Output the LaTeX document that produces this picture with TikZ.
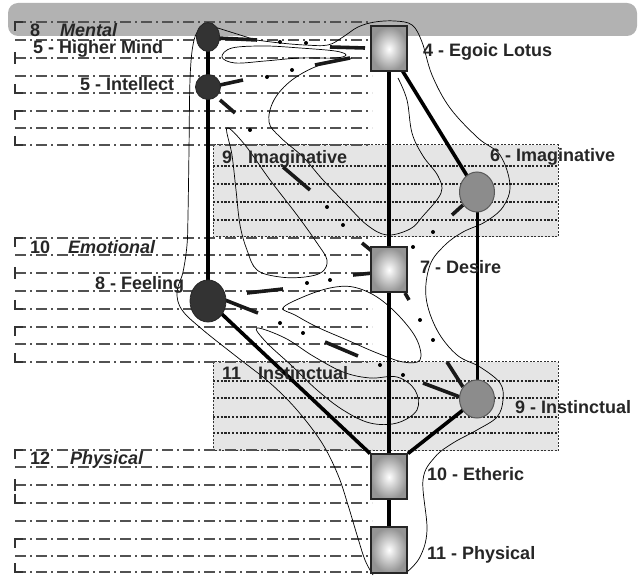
\documentclass[tikz,border=0pt]{standalone}
\usepackage{fontspec}
\setmainfont{Liberation Sans}
\usetikzlibrary{shapes.geometric}
\pgfdeclarelayer{bgA}
\pgfdeclarelayer{bgB}
\pgfsetlayers{bgA,bgB,main}
\begin{document}
\begin{tikzpicture}[x=1pt,y=-1pt,
  ddl/.style={draw=black!68, line width=1.3pt, dash pattern=on 11pt off 4pt on 2pt off 4pt},
  brk/.style={draw=black!80, line width=1.3pt},
  dotl/.style={draw=black!85, line width=1.1pt, dash pattern=on 2.2pt off 1.6pt},
  gbox/.style={fill=black!10, draw=black!80, line width=1pt, dash pattern=on 2pt off 1.5pt},
  contour/.style={draw=black, line width=0.7pt},
  heavy/.style={draw=black, line width=3.6pt},
  stub/.style={draw=black!90, line width=3.6pt},
  sq/.style={rectangle, draw=black!85, line width=2pt, minimum width=36pt, minimum height=45pt, inner sep=0pt, inner color=white, outer color=black!42},
  dkc/.style={ellipse, fill=black!80, draw=black!85, line width=0.8pt, inner sep=0pt},
  gyc/.style={ellipse, fill=black!45, draw=black!65, line width=1pt, inner sep=0pt},
  lbl/.style={font=\fontsize{18}{20}\selectfont\bfseries, text=black!85, inner sep=0pt, anchor=base west},
  ilbl/.style={lbl, font=\fontsize{18}{20}\selectfont\bfseries\itshape}
]
\useasboundingbox (0,0) rectangle (638,577);

% ---------- nodes ----------
\node[dkc, minimum width=23pt, minimum height=29pt] (hm) at (208,37) {};
\node[dkc, minimum width=25pt, minimum height=25pt] (intel) at (208,87) {};
\node[dkc, minimum width=36pt, minimum height=42pt] (feel) at (208,301) {};
\node[gyc, minimum width=35pt, minimum height=40pt] (imag) at (477,192) {};
\node[gyc, minimum width=35pt, minimum height=38pt] (inst) at (477,399) {};
\node[sq] (ego) at (389,49) {};
\node[sq] (desire) at (389,270) {};
\node[sq] (etheric) at (389,477) {};
\node[sq] (phys) at (389,550) {};

% ---------- background: bar, boxes, dash-dot lines ----------
\begin{pgfonlayer}{bgA}
  \fill[black!30, rounded corners=10pt] (8,3) rectangle (637,36);
  \draw[gbox] (213,145) rectangle (558,237);
  \draw[gbox] (213,362) rectangle (558,451);
  \foreach \y in {166,184,202,220,381,398,417,433}
    \draw[dotl] (213,\y) -- (558,\y);
  \foreach \y in {22,40,58,76,93,111,128,145,238,255,273,291,309,327,344,362,450,467,485,503,521,539,556,572}
    \draw[ddl] (15,\y) -- (372,\y);
  \foreach \ya/\yc/\yd/\ye/\yh in {22/58/93/111/145, 238/273/309/327/362, 450/485/503/539/572} {
    \draw[brk] (15,\ya+9) -- (15,\ya) -- (23,\ya);
    \draw[brk] (15,\yc-6) -- (15,\yc+6);
    \draw[brk] (15,\yd-9) -- (15,\yd) -- (23,\yd);
    \draw[brk] (15,\ye+9) -- (15,\ye) -- (23,\ye);
    \draw[brk] (15,\yh-9) -- (15,\yh) -- (23,\yh);
  }
\end{pgfonlayer}

% ---------- contours, connectors, stubs ----------
\begin{pgfonlayer}{bgB}
  % outer left contour
  \draw[contour] plot[smooth, tension=0.6] coordinates {(212,24) (199,30) (193,45) (190,80) (189,150) (188,215) (187,245) (183,272) (177,292) (182,310) (203,330) (237,357) (270,383) (297,410) (322,443) (338,475) (348,505) (357,535) (365,560) (373,575)};
  % pennant
  \draw[contour] (205,24) -- (256,40);
  % long right contour
  \draw[contour] plot[smooth, tension=0.6] coordinates {(256,40) (280,43) (305,45) (328,45) (343,37) (358,27) (375,22) (395,21) (412,25) (422,42) (432,75) (450,108) (478,138) (500,155) (510,185) (503,207) (485,222) (463,232) (445,245) (430,265) (426,297) (437,330) (457,355) (480,367) (500,383) (503,400) (497,417) (477,430) (453,443) (435,457) (423,480) (427,530) (420,557) (407,572)};
  % narrow loop near higher mind
  \draw[contour] plot[smooth cycle, tension=0.6] coordinates {(222,57) (232,48) (265,46) (300,48) (335,51) (346,55) (335,58) (300,58) (265,61) (235,63)};
  % big loop from lotus
  \draw[contour] plot[smooth, tension=0.6] coordinates {(352,58) (320,65) (292,80) (274,100) (269,122) (280,137) (303,157) (323,180) (347,205) (367,225) (387,235) (410,229) (423,216) (441,193) (438,176) (423,156) (412,133) (407,100) (398,78)};
  % long narrow loop
  \draw[contour] plot[smooth cycle, tension=0.6] coordinates {(227,128) (245,145) (270,180) (297,215) (317,243) (327,260) (322,272) (305,277) (280,277) (257,270) (247,250) (240,225) (236,190) (232,155)};
  % loop near feeling
  \draw[contour] plot[smooth cycle, tension=0.6] coordinates {(283,308) (303,297) (330,288) (353,287) (377,297) (400,317) (417,340) (420,360) (403,362) (377,353) (347,340) (317,327) (295,315)};
  % loop near instinctual
  \draw[contour] plot[smooth cycle, tension=0.6] coordinates {(257,328) (285,338) (313,356) (343,372) (370,378) (397,377) (415,390) (417,410) (397,423) (370,423) (343,410) (317,390) (292,366) (266,342)};

  % main connectors
  \draw[heavy] (hm.center) -- (feel.center);
  \draw[heavy] (ego.center) -- (phys.center);
  \draw[heavy] (ego.center) -- (imag.center);
  \draw[heavy, line width=3pt] (imag.center) -- (inst.center);
  \draw[heavy] (inst.center) -- (etheric.north east);
  \draw[heavy] (feel.center) -- (etheric.north west);

  % short thick stubs
  \draw[stub] (217,38) -- (257,40);
  \draw[stub] (330,47) -- (365,48);
  \draw[stub] (315,65) -- (350,58);
  \draw[stub] (220,85) -- (243,80);
  \draw[stub] (220,100) -- (235,113);
  \draw[stub] (283,167) -- (310,190);
  \draw[stub] (452,215) -- (463,205);
  \draw[stub] (362,243) -- (373,252);
  \draw[stub] (353,275) -- (373,273);
  \draw[stub] (405,293) -- (409,300);
  \draw[stub] (247,293) -- (283,289);
  \draw[stub] (225,300) -- (258,313);
  \draw[stub] (325,342) -- (358,356);
  \draw[stub] (447,362) -- (463,387);
  \draw[stub] (423,383) -- (460,397);

  % dots
  \foreach \p in {(280,42),(306,43),(267,77),(292,70),(250,130),(327,207),(343,225),(433,232),(413,247),(307,283),(330,280),(280,323),(303,333),(420,320),(433,340),(380,365),(403,375)}
    \fill[black] \p circle (2pt);
\end{pgfonlayer}

% ---------- labels ----------
\node[lbl] (t8) at (30,36.5) {8};
\node[ilbl] (tmental) at (60,36.5) {Mental};
\node[lbl] (thm) at (33,53.5) {5 - Higher Mind};
\node[lbl] (tint) at (80,90.5) {5 - Intellect};
\node[lbl] (t9) at (222,163.5) {9};
\node[lbl] (timag) at (248,163.5) {Imaginative};
\node[lbl] (timag6) at (490,161.5) {6 - Imaginative};
\node[lbl] (tego) at (423,56.5) {4 - Egoic Lotus};
\node[lbl] (t10) at (30,253.5) {10};
\node[ilbl] (temo) at (68,253.5) {Emotional};
\node[lbl] (tfeel) at (95,289.5) {8 - Feeling};
\node[lbl] (tdes) at (420,273.5) {7 - Desire};
\node[lbl] (t11) at (222,379.5) {11};
\node[lbl] (tinst) at (258,379.5) {Instinctual};
\node[lbl] (tinst9) at (515,413.5) {9 - Instinctual};
\node[lbl] (t12) at (30,464.5) {12};
\node[ilbl] (tphy) at (70,464.5) {Physical};
\node[lbl] (teth) at (427,480.5) {10 - Etheric};
\node[lbl] (tphys) at (427,559.5) {11 - Physical};
\end{tikzpicture}
\end{document}
